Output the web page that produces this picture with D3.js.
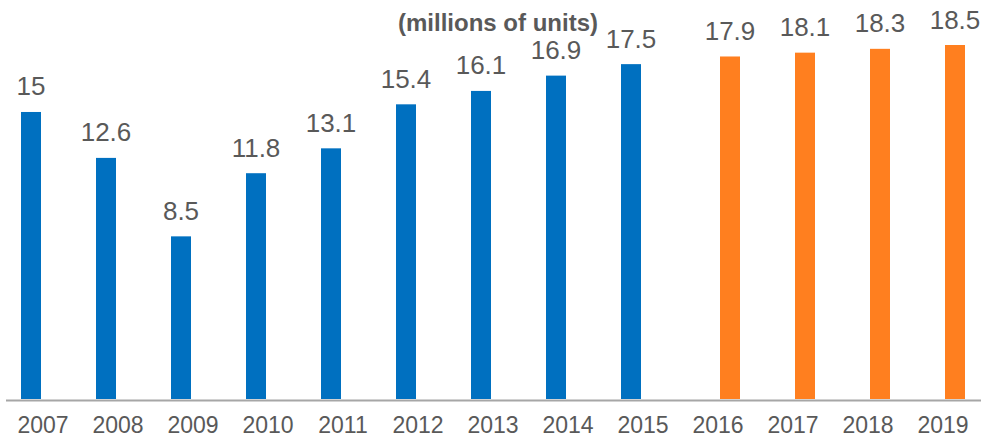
<!DOCTYPE html>
<html>
<head>
<meta charset="utf-8">
<script src="https://cdn.jsdelivr.net/npm/d3@7"></script>
<style>
  html, body { margin: 0; padding: 0; background: #ffffff; }
  svg { display: block; font-family: "Liberation Sans", Arial, sans-serif; }
</style>
</head>
<body>
<svg id="chart" width="984" height="439"></svg>
<script>
// Annual sales, millions of units
const years = ["2007","2008","2009","2010","2011","2012","2013","2014","2015","2016","2017","2018","2019"];
const actualValues   = [15, 12.6, 8.5, 11.8, 13.1, 15.4, 16.1, 16.9, 17.5, null, null, null, null];
const forecastValues = [null, null, null, null, null, null, null, null, null, 17.9, 18.1, 18.3, 18.5];
const seriesNames = ["actual", "forecast"];
const seriesColors = ["#0070C0", "#FF7F1F"];
const unitLabel = "(millions of units)";

const svg = d3.select("#chart");
const baseY = 399;

const x = d3.scaleBand().domain(years).range([5.5, 980.5]).padding(0);
const xs = d3.scaleBand().domain(seriesNames).range([-22, 22]).paddingInner(1/6).paddingOuter(0);
const y = d3.scaleLinear().domain([0, 20]).range([baseY, 16.3]);
const color = d3.scaleOrdinal().domain(seriesNames).range(seriesColors);

const rows = [];
seriesNames.forEach((s, si) => {
  const vals = si === 0 ? actualValues : forecastValues;
  years.forEach((yr, i) => {
    if (vals[i] != null) rows.push({ year: yr, series: s, value: vals[i] });
  });
});

const cx = d => x(d.year) + x.bandwidth() / 2 + xs(d.series);

// bars
svg.append("g").selectAll("rect").data(rows).join("rect")
  .attr("x", cx)
  .attr("y", d => y(d.value))
  .attr("width", xs.bandwidth())
  .attr("height", d => y(0) - y(d.value))
  .attr("fill", d => color(d.series));

// value labels
svg.append("g").selectAll("text").data(rows).join("text")
  .attr("x", d => cx(d) + xs.bandwidth() / 2)
  .attr("y", d => y(d.value) - 16.5)
  .attr("text-anchor", "middle")
  .attr("font-size", 26)
  .attr("fill", "#595959")
  .text(d => d3.format(".1~f")(d.value));

// category axis
const axis = svg.append("g").attr("transform", `translate(0,${baseY + 1})`)
  .call(d3.axisBottom(x).tickSize(0).tickPadding(0));
axis.select(".domain").attr("stroke", "#A6A6A6").attr("stroke-width", 2);
axis.selectAll(".tick text")
  .attr("font-family", "Liberation Sans, Arial, sans-serif")
  .attr("font-size", 23)
  .attr("fill", "#595959")
  .attr("dy", null)
  .attr("y", 33);

// unit label
svg.append("text")
  .attr("x", 498)
  .attr("y", 31)
  .attr("text-anchor", "middle")
  .attr("font-size", 24)
  .attr("font-weight", "bold")
  .attr("fill", "#595959")
  .text(unitLabel);
</script>
</body>
</html>
